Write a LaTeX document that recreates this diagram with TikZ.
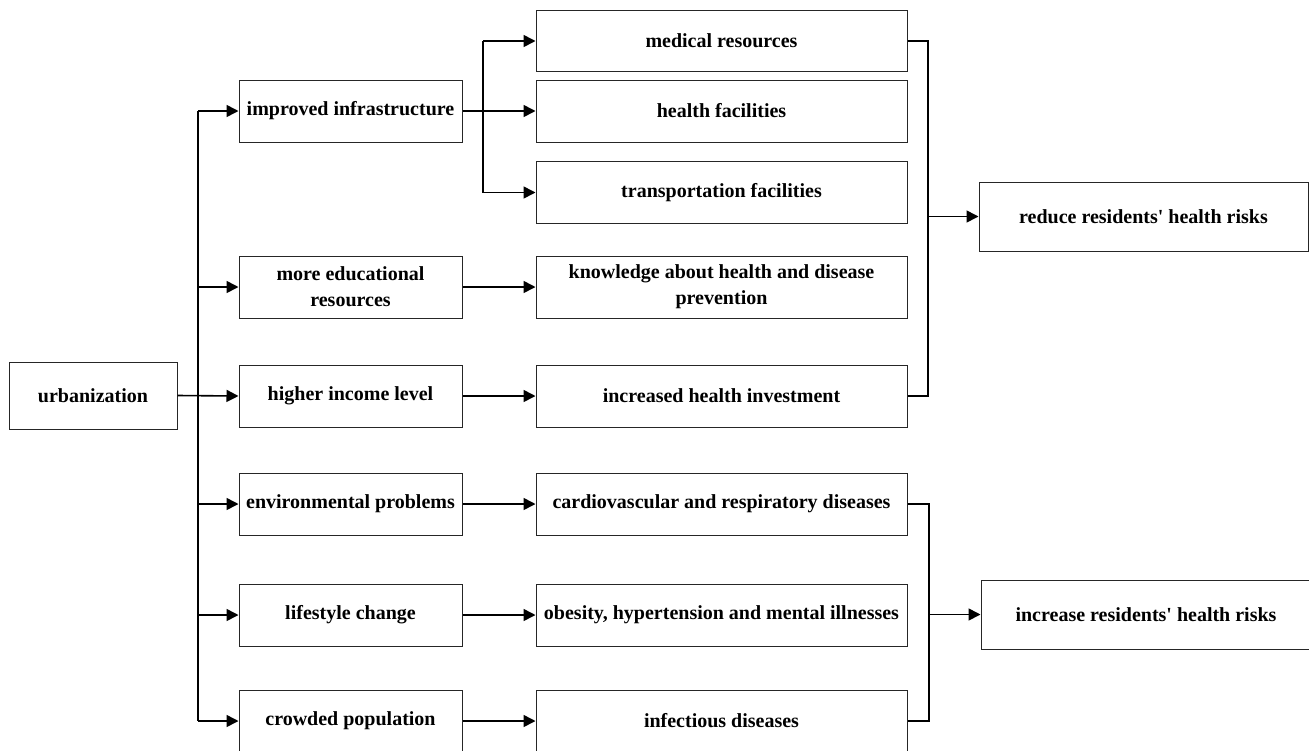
\documentclass[tikz,border=0pt]{standalone}
\usepackage{fontspec}
\setmainfont{Liberation Serif}
\usetikzlibrary{arrows.meta}
\tikzset{
  box/.style={draw=black!85, line width=1pt, rectangle, inner sep=2pt, align=center,
    font=\fontsize{20pt}{26pt}\selectfont\bfseries},
  conn/.style={line width=1.6pt, black},
  thinconn/.style={line width=1.2pt, black},
  arr/.style={conn, -{Triangle[length=12pt,width=12pt]}},
}
\begin{document}
\begin{tikzpicture}[x=1pt,y=-1pt]
\useasboundingbox (0,0) rectangle (1309,750);
\clip (0,0) rectangle (1309,750);
% left
\node[box, minimum width=168pt, minimum height=67pt] (urb) at (93,395.5) {urbanization};
% column 2
\node[box, minimum width=223pt, minimum height=62pt] (inf) at (350.5,111) {improved infrastructure};
\node[box, minimum width=223pt, minimum height=62pt] (edu) at (350.5,287) {more educational\\resources};
\node[box, minimum width=223pt, minimum height=62pt] (inc) at (350.5,396) {higher income level};
\node[box, minimum width=223pt, minimum height=62pt] (env) at (350.5,504) {environmental problems};
\node[box, minimum width=223pt, minimum height=62pt] (life) at (350.5,615) {lifestyle change};
\node[box, minimum width=223pt, minimum height=62pt] (crowd) at (350.5,721) {crowded population};
% column 3
\node[box, minimum width=371pt, minimum height=61pt] (med) at (721.5,41) {medical resources};
\node[box, minimum width=371pt, minimum height=62pt] (hf) at (721.5,111) {health facilities};
\node[box, minimum width=371pt, minimum height=62pt] (tf) at (721.5,192.5) {transportation facilities};
\node[box, minimum width=371pt, minimum height=62pt] (know) at (721.5,287) {knowledge about health and disease\\prevention};
\node[box, minimum width=371pt, minimum height=62pt] (invest) at (721.5,396) {increased health investment};
\node[box, minimum width=371pt, minimum height=62pt] (cardio) at (721.5,504) {cardiovascular and respiratory diseases};
\node[box, minimum width=371pt, minimum height=62pt] (obes) at (721.5,615) {obesity, hypertension and mental illnesses};
\node[box, minimum width=371pt, minimum height=62pt] (infect) at (721.5,721) {infectious diseases};
% right
\node[box, minimum width=329pt, minimum height=69pt] (reduce) at (1143.5,216.5) {reduce residents\textquotesingle\ health risks};
\node[box, minimum width=330pt, minimum height=69pt] (increase) at (1146,614.5) {increase residents\textquotesingle\ health risks};
% helper columns
\coordinate (T) at (198,0);
\coordinate (B) at (483,0);
\coordinate (R1) at (928,0);
\coordinate (R2) at (929,0);
% trunk
\draw[conn] (T |- inf.west) -- (T |- crowd.west);
\draw[arr] (urb.east) -- (inc.west);
\foreach \n in {inf,edu,env,life,crowd}{
  \draw[arr] (T |- \n.west) -- (\n.west);
}
% infrastructure branch
\draw[conn] (inf.east) -- (B |- inf.east);
\draw[conn] (B |- med.west) -- (B |- tf.west);
\foreach \n in {med,hf,tf}{
  \draw[arr] (B |- \n.west) -- (\n.west);
}
% direct arrows
\draw[arr] (edu.east) -- (know.west);
\draw[arr] (inc.east) -- (invest.west);
\draw[arr] (env.east) -- (cardio.west);
\draw[arr] (life.east) -- (obes.west);
\draw[arr] (crowd.east) -- (infect.west);
% brackets
\draw[thinconn] (med.east) -- (R1 |- med.east) -- (R1 |- invest.east) -- (invest.east);
\draw[arr] (R1 |- reduce.west) -- (reduce.west);
\draw[thinconn] (cardio.east) -- (R2 |- cardio.east) -- (R2 |- infect.east) -- (infect.east);
\draw[arr] (R2 |- increase.west) -- (increase.west);
\end{tikzpicture}
\end{document}
